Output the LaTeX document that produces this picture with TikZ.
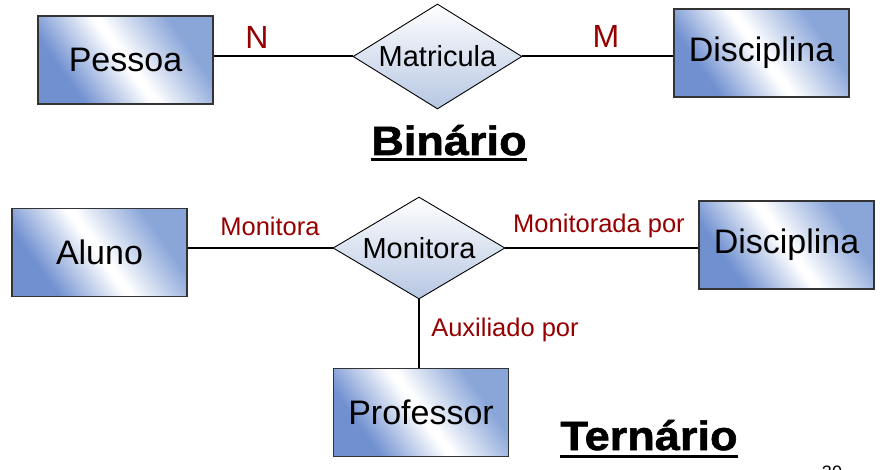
\documentclass[tikz,border=0pt]{standalone}
\usepackage{fontspec}
\setmainfont{Liberation Sans}
\newfontfamily\heavyfont[BoldFeatures={FakeBold=1.4,FakeStretch=1.1}]{Liberation Sans}
\usepackage{xcolor}
\usepackage{tikz}
\usetikzlibrary{shapes.geometric, positioning, calc}
\definecolor{entdeep}{RGB}{112,144,208}
\definecolor{entlite}{RGB}{138,166,217}
\definecolor{relbot}{RGB}{182,198,226}
\definecolor{cardcol}{RGB}{150,0,0}
\pgfdeclarehorizontalshading{entshade}{100bp}{color(0bp)=(entdeep);
  color(29bp)=(entdeep); color(49bp)=(white); color(51bp)=(white);
  color(71bp)=(entlite); color(100bp)=(entlite)}

\begin{document}
\begin{tikzpicture}[
  x=1pt, y=-1pt,
  entity/.style={draw=black!80, line width=1.1pt, shading=entshade,
                 shading angle=35,
                 minimum width=175pt, minimum height=88pt, inner sep=0pt,
                 font=\fontsize{34}{40}\selectfont},
  rel/.style={diamond, draw=black, line width=0.9pt, top color=white,
              bottom color=relbot, inner sep=0pt, aspect=1.6,
              font=\fontsize{29}{34}\selectfont},
  link/.style={line width=2pt},
  card/.style={text=cardcol, inner sep=0pt, anchor=base},
  title/.style={font=\heavyfont\bfseries\fontsize{41}{48}\selectfont,
                inner sep=0pt, anchor=base}
]
  \useasboundingbox (0,0) rectangle (884,470);

  % binario
  \node[entity] (pessoa) at (125.5,60) {Pessoa};
  \node[rel, minimum width=169pt, minimum height=105pt] (matricula)
    at (437.5,56.5) {Matricula};
  \node[entity] (disc1) at (761.5,53) {Disciplina};

  \draw[link] (matricula.west) -- (matricula.west -| pessoa.east);
  \draw[link] (matricula.east) -- (matricula.east -| disc1.west);

  \node[card, font=\fontsize{32}{38}\selectfont] (cardn) at (257,49) {N};
  \node[card, font=\fontsize{32}{38}\selectfont] (cardm) at (606,48) {M};

  \node[title] (binario) at (449,155) {Binário};
  \draw[line width=3pt] ($(binario.base west)+(0,5)$) -- ($(binario.base east)+(0,5)$);

  % ternario
  \node[entity] (aluno) at (99.5,252.5) {Aluno};
  \node[rel, minimum width=172pt, minimum height=102pt] (monitora)
    at (419,248) {Monitora};
  \node[entity] (disc2) at (786.5,245) {Disciplina};
  \node[entity] (professor) at (421,412.5) {Professor};

  \draw[link] (monitora.west) -- (monitora.west -| aluno.east);
  \draw[link] (monitora.east) -- (monitora.east -| disc2.west);
  \draw[link] (monitora.south) -- (monitora.south |- professor.north);

  \node[card, font=\fontsize{25.5}{30}\selectfont] (lblaluno) at (270,236) {Monitora};
  \node[card, font=\fontsize{25.5}{30}\selectfont] (lbldisc) at (599,233) {Monitorada por};
  \node[card, font=\fontsize{25.5}{30}\selectfont] (lblprof) at (505,337) {Auxiliado por};

  \node[title] (ternario) at (649,450) {Ternário};
  \draw[line width=3pt] ($(ternario.base west)+(0,6)$) -- ($(ternario.base east)+(0,6)$);

  \node[inner sep=0pt, anchor=base, font=\fontsize{18}{21}\selectfont] (pagenum)
    at (832,478) {30};
\end{tikzpicture}
\end{document}
